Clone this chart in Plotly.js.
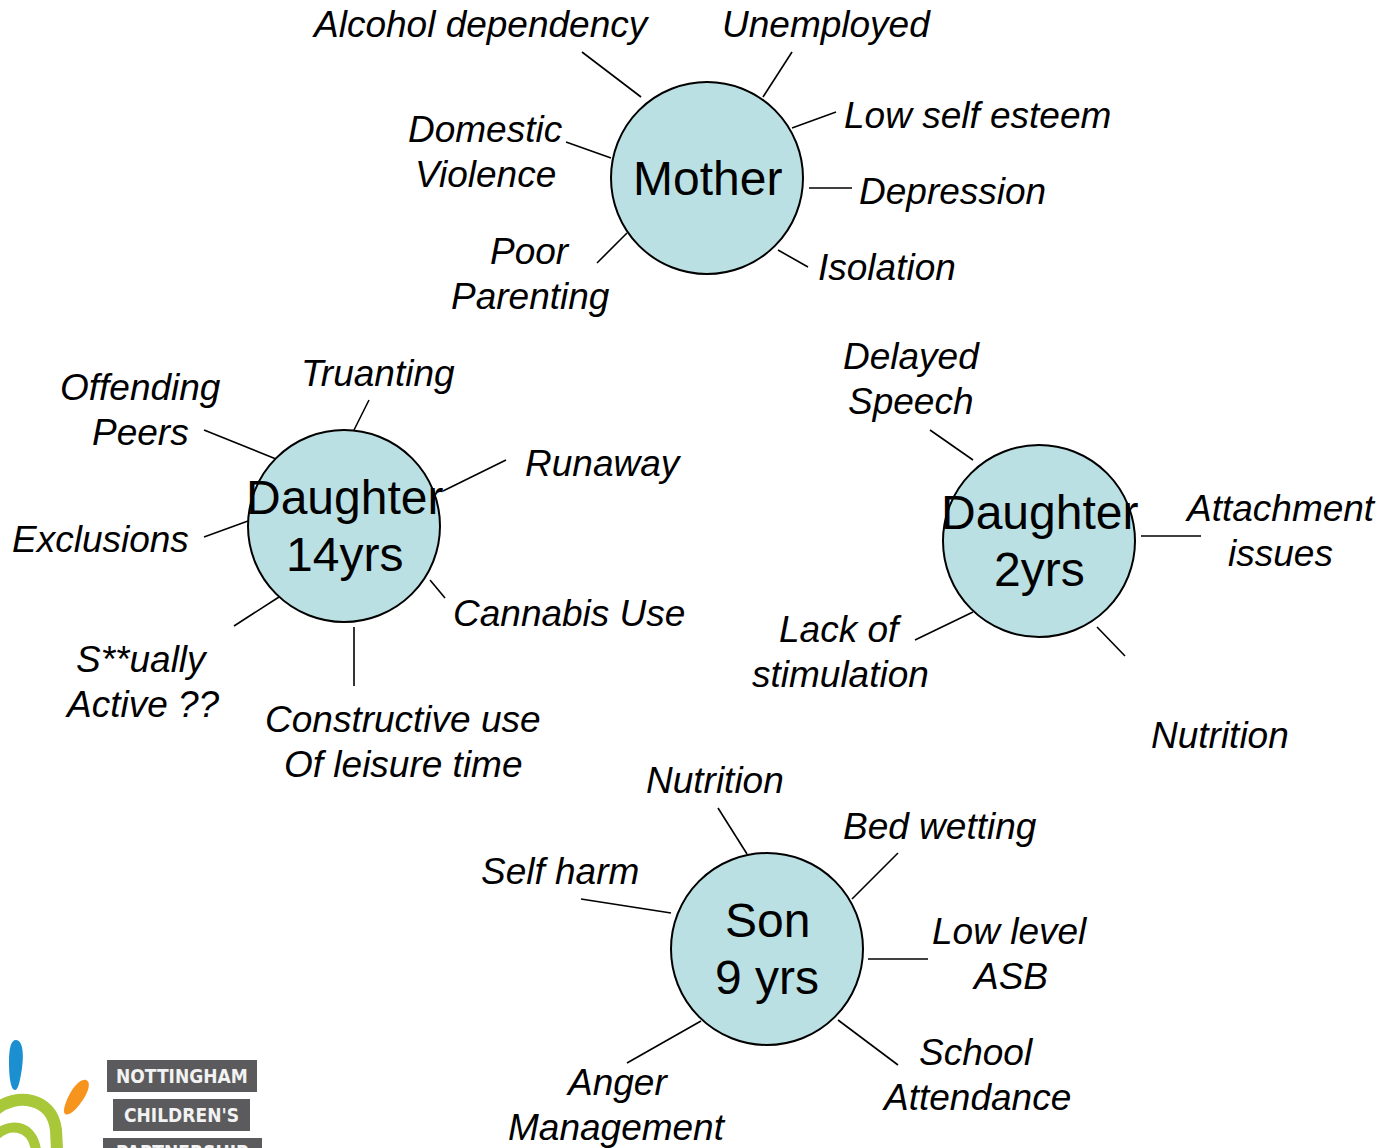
<!DOCTYPE html>
<html>
<head>
<meta charset="utf-8">
<script src="https://cdn.plot.ly/plotly-3.0.1.min.js"></script>
<style>
  html, body { margin: 0; padding: 0; background: #ffffff; }
  #chart { width: 1381px; height: 1148px; }
</style>
</head>
<body>
<div id="chart"></div>
<script>
// ---- Data: hub nodes (centre x, centre y in the 1381x1148 canvas frame) ----
const hubNames = ["Mother", "Daughter<br>14yrs", "Daughter<br>2yrs", "Son<br>9 yrs"];
const hubX = [707, 344, 1039, 767];
const hubY = [178, 526, 541, 949];
const hubR = [96, 96, 96, 96];

// ---- Factor labels around each hub ----
const factorHub = [0,0,0,0,0,0,0, 1,1,1,1,1,1,1, 2,2,2,2, 3,3,3,3,3,3];
const factorText = [
  "Alcohol dependency", "Unemployed", "Low self esteem", "Domestic<br>Violence",
  "Depression", "Isolation", "Poor<br>Parenting",
  "Offending<br>Peers", "Truanting", "Runaway", "Exclusions", "Cannabis Use",
  "S**ually<br>Active ??", "Constructive use<br>Of leisure time",
  "Delayed<br>Speech", "Attachment<br>issues", "Lack of<br>stimulation", "Nutrition",
  "Nutrition", "Bed wetting", "Self harm", "Low level<br>ASB", "School<br>Attendance", "Anger<br>Management"
];
const factorX = [481, 826, 977, 485, 952, 887, 530,
                 140, 378, 603, 100, 569, 142, 403,
                 911, 1280, 840, 1220,
                 715, 940, 560, 1010, 976, 617];
const factorY = [24, 24, 115, 152, 191, 267, 274,
                 410, 373, 463, 539, 613, 682, 742,
                 379, 531, 652, 735,
                 780, 826, 871, 954, 1075, 1105];

// ---- Connector spokes (start and end points) ----
const spokeX0 = [582, 792, 836, 566, 809, 778, 597,
                 204, 369, 506, 204, 430, 234, 354,
                 930, 1141, 915, 1097,
                 718, 898, 581, 868, 838, 627];
const spokeY0 = [52, 52, 112, 142, 188, 250, 263,
                 430, 400, 460, 537, 580, 626, 627,
                 430, 536, 640, 627,
                 808, 853, 899, 959, 1020, 1063];
const spokeX1 = [641, 763, 792, 611, 852, 808, 627,
                 276, 354, 443, 248, 445, 279, 354,
                 973, 1201, 973, 1125,
                 747, 852, 671, 928, 898, 701];
const spokeY1 = [97, 97, 128, 158, 188, 267, 233,
                 459, 430, 491, 521, 598, 597, 686,
                 460, 536, 612, 656,
                 854, 899, 913, 959, 1065, 1021];

// ---- Logo text ----
const logoWords = ["NOTTINGHAM", "CHILDREN'S", "PARTNERSHIP"];

// ---- Build traces ----
const lx = [], ly = [];
for (let i = 0; i < spokeX0.length; i++) {
  lx.push(spokeX0[i], spokeX1[i], null);
  ly.push(spokeY0[i], spokeY1[i], null);
}
const traces = [{
  type: "scatter", mode: "lines", x: lx, y: ly,
  line: { color: "#000000", width: 1.6 }, hoverinfo: "skip", showlegend: false
}];

const shapes = [];
for (let i = 0; i < hubNames.length; i++) {
  shapes.push({
    type: "circle", xref: "x", yref: "y",
    x0: hubX[i] - hubR[i], x1: hubX[i] + hubR[i],
    y0: hubY[i] - hubR[i], y1: hubY[i] + hubR[i],
    fillcolor: "#BAE0E3", line: { color: "#000000", width: 2 }, layer: "above"
  });
}

const annotations = [];
const FS = 37, LS = 45;
for (let i = 0; i < factorText.length; i++) {
  const lines = factorText[i].split("<br>");
  const n = lines.length;
  lines.forEach((t, k) => {
    annotations.push({
      x: factorX[i], y: factorY[i] + (k - (n - 1) / 2) * LS,
      xref: "x", yref: "y", text: "<i>" + t + "</i>", showarrow: false,
      xanchor: "center", yanchor: "middle",
      font: { family: "Liberation Sans, Arial, sans-serif", size: FS, color: "#000000" }
    });
  });
}
for (let i = 0; i < hubNames.length; i++) {
  const lines = hubNames[i].split("<br>");
  const n = lines.length;
  lines.forEach((t, k) => {
    annotations.push({
      x: hubX[i], y: hubY[i] + (k - (n - 1) / 2) * 57,
      xref: "x", yref: "y", text: t, showarrow: false,
      xanchor: "center", yanchor: "middle",
      font: { family: "Liberation Sans, Arial, sans-serif", size: 48, color: "#000000" }
    });
  });
}

// ---- Logo (bottom-left) ----
const logoBoxes = [[107, 257, 1060, 1092], [113, 250, 1099, 1131], [103, 262, 1138, 1170]];
logoBoxes.forEach((b, i) => {
  shapes.push({ type: "rect", xref: "x", yref: "y", x0: b[0], x1: b[1], y0: b[2], y1: b[3],
    fillcolor: "#5b5b5d", line: { width: 0 } });
  const last = i === 2;
  annotations.push({ x: (b[0] + b[1]) / 2, y: last ? 1139 : (b[2] + b[3]) / 2,
    xref: "x", yref: "y", text: "<b>" + logoWords[i] + "</b>", showarrow: false,
    xanchor: "center", yanchor: last ? "top" : "middle",
    font: { family: "DejaVu Sans Condensed, Liberation Sans Narrow, sans-serif", size: 19, color: "#f2f2f2" } });
});
// blue drop
shapes.push({ type: "path", xref: "x", yref: "y",
  path: "M 16 1040 C 23 1040 24 1055 22 1068 C 20 1082 18 1090 15 1090 C 11 1090 9 1078 9 1062 C 9 1048 11 1040 16 1040 Z",
  fillcolor: "#1b8fcf", line: { width: 0 } });
// orange drop
shapes.push({ type: "path", xref: "x", yref: "y",
  path: "M 86 1080 C 92 1082 88 1094 80 1104 C 74 1112 68 1116 65 1114 C 62 1111 66 1100 72 1090 C 77 1083 82 1079 86 1080 Z",
  fillcolor: "#f7941d", line: { width: 0 } });
// green spiral arcs
shapes.push({ type: "path", xref: "x", yref: "y",
  path: "M -5 1110 C 15 1093 52 1096 56 1130 L 57 1150",
  line: { color: "#a8c83a", width: 12 } });
shapes.push({ type: "path", xref: "x", yref: "y",
  path: "M -5 1136 C 8 1123 32 1123 36 1150",
  line: { color: "#a8c83a", width: 10 } });

const layout = {
  width: 1381, height: 1148,
  margin: { l: 0, r: 0, t: 0, b: 0, pad: 0 },
  paper_bgcolor: "#ffffff", plot_bgcolor: "#ffffff",
  xaxis: { range: [0, 1381], visible: false, fixedrange: true },
  yaxis: { range: [1148, 0], visible: false, fixedrange: true },
  shapes: shapes, annotations: annotations, showlegend: false
};

Plotly.newPlot("chart", traces, layout, { staticPlot: true, displayModeBar: false });
</script>
</body>
</html>
